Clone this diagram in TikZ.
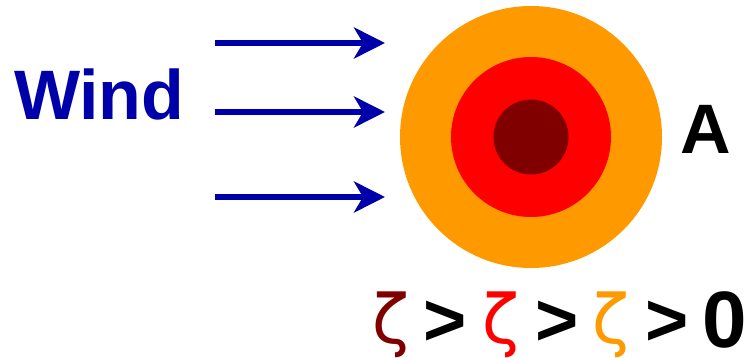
\documentclass[tikz,border=0pt]{standalone}
\usepackage{fontspec}
\setmainfont{Liberation Sans}
\newfontfamily\zetafont{DejaVu Sans}
\usetikzlibrary{arrows.meta}
\definecolor{windblue}{RGB}{0,0,170}
\definecolor{ringorange}{RGB}{255,153,0}
\definecolor{ringred}{RGB}{255,0,0}
\definecolor{ringdark}{RGB}{128,0,0}
\tikzset{
  disc/.style={circle, inner sep=0pt, outer sep=0pt, fill=#1},
  windarrow/.style={draw=windblue, line width=6pt, -{Stealth[length=31pt, width=31pt, inset=9pt, fill=windblue]}},
  bigtext/.style={inner sep=0pt, outer sep=0pt, anchor=base west, font=\fontsize{70}{70}\selectfont\bfseries},
  rel/.style={inner sep=0pt, outer sep=0pt, anchor=base west, font=\fontsize{74}{74}\selectfont\bfseries},
  digit/.style={inner sep=0pt, outer sep=0pt, anchor=base west, font=\fontsize{80}{80}\selectfont\bfseries},
  zeta/.style={inner sep=0pt, outer sep=0pt, anchor=base west, font=\zetafont\fontsize{68}{68}\selectfont, text=#1}
}
\begin{document}
\begin{tikzpicture}[x=1pt, y=-1pt]
\useasboundingbox (0,0) rectangle (744,358);
% rings
\node[disc=ringorange, minimum size=262pt] (outer) at (531,137) {};
\node[disc=ringred, minimum size=160pt] (mid) at (531,137) {};
\node[disc=ringdark, minimum size=75pt] (core) at (531,137) {};
% labels
\node[bigtext, text=windblue] (wind) at (14,120) {Wind};
\node[bigtext] (A) at (680,154) {A};
% wind arrows
\coordinate (s1) at (215,43); \coordinate (e1) at (385,43);
\coordinate (s2) at (215,112); \coordinate (e2) at (385,112);
\coordinate (s3) at (215,197); \coordinate (e3) at (385,197);
\draw[windarrow] (s1) -- (e1);
\draw[windarrow] (s2) -- (e2);
\draw[windarrow] (s3) -- (e3);
% relation
\node[zeta=ringdark] (z1) at (372,343) {ζ};
\node[rel] (g1) at (423,345) {>};
\node[zeta=ringred] (z2) at (482,343) {ζ};
\node[rel] (g2) at (535,345) {>};
\node[zeta=ringorange] (z3) at (592,343) {ζ};
\node[rel] (g3) at (645,345) {>};
\node[digit] (zero) at (702,347) {0};
\end{tikzpicture}
\end{document}
